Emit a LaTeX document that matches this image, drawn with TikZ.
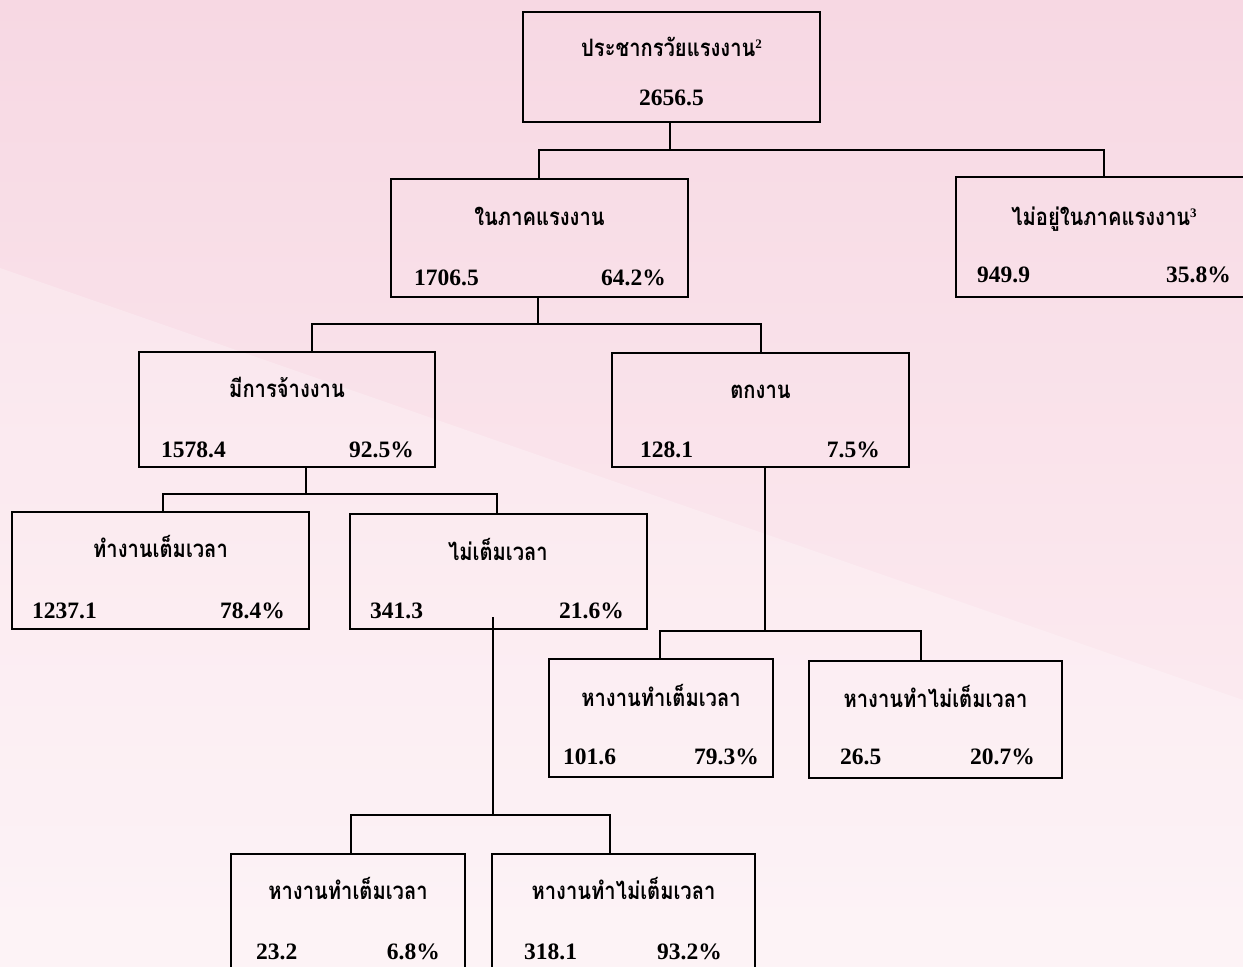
\documentclass[tikz,border=0pt]{standalone}
\usepackage{fontspec}
\setmainfont{Liberation Serif}
\newfontfamily\thaifont[Script=Thai,FakeStretch=0.84]{Loma}
\newfontfamily\supfont{Liberation Serif}
\newcommand\mysup[1]{\raisebox{8pt}{\supfont\bfseries\fontsize{13}{13}\selectfont #1}}
\definecolor{bgtop}{HTML}{F7D8E3}
\definecolor{bgbot}{HTML}{FDF0F4}
\tikzset{
  box/.style={draw=black, line width=2pt, rectangle, inner sep=0pt},
  conn/.style={draw=black, line width=2pt},
  ttl/.style={font=\thaifont\bfseries\fontsize{24}{28}\selectfont, anchor=base, inner sep=0pt},
  num/.style={font=\bfseries\fontsize{23.5}{27}\selectfont, inner sep=0pt},
  nl/.style={num, anchor=base west},
  nr/.style={num, anchor=base east},
}
\begin{document}
\begin{tikzpicture}[x=1pt,y=-1pt]
\useasboundingbox (0,0) rectangle (1243,967);
\clip (0,0) rectangle (1243,967);
% background
\shade[top color=bgtop, bottom color=bgbot] (0,0) rectangle (1243,967);
\fill[white, opacity=0.25] (0,268) -- (1243,700) -- (1243,967) -- (0,967) -- cycle;

% boxes
\node[box, minimum width=297pt, minimum height=110pt] (A) at (671.5,67) {};
\node[box, minimum width=297pt, minimum height=118pt] (B) at (539.5,238) {};
\node[box, minimum width=297pt, minimum height=120pt] (C) at (1104.5,237) {};
\node[box, minimum width=296pt, minimum height=115pt] (D) at (287,409.5) {};
\node[box, minimum width=297pt, minimum height=114pt] (E) at (760.5,410) {};
\node[box, minimum width=297pt, minimum height=117pt] (F) at (160.5,570.5) {};
\node[box, minimum width=297pt, minimum height=115pt] (G) at (498.5,571.5) {};
\node[box, minimum width=224pt, minimum height=118pt] (H) at (661,718) {};
\node[box, minimum width=253pt, minimum height=117pt] (I) at (935.5,719.5) {};
\node[box, minimum width=234pt, minimum height=126pt] (J) at (348,917) {};
\node[box, minimum width=263pt, minimum height=126pt] (K) at (623.5,917) {};

% texts
\node[ttl] (At) at (671.5,56) {ประชากรวัยแรงงาน\mysup{2}};
\node[num, anchor=base] (An) at (671.5,105) {2656.5};

\node[ttl] (Bt) at (539.5,225) {ในภาคแรงงาน};
\node[nl] (Bl) at (414,285) {1706.5};
\node[nr] (Br) at (666,285) {64.2\%};

\node[ttl] (Ct) at (1104,225) {ไม่อยู่ในภาคแรงงาน\mysup{3}};
\node[nl] (Cl) at (977,282) {949.9};
\node[nr] (Cr) at (1231,282) {35.8\%};

\node[ttl] (Dt) at (287,397) {มีการจ้างงาน};
\node[nl] (Dl) at (161,457) {1578.4};
\node[nr] (Dr) at (414,457) {92.5\%};

\node[ttl] (Et) at (760.5,398) {ตกงาน};
\node[nl] (El) at (640,457) {128.1};
\node[nr] (Er) at (880,457) {7.5\%};

\node[ttl] (Ft) at (160.5,557) {ทำงานเต็มเวลา};
\node[nl] (Fl) at (32,618) {1237.1};
\node[nr] (Fr) at (285,618) {78.4\%};

\node[ttl] (Gt) at (498,560) {ไม่เต็มเวลา};
\node[nl] (Gl) at (370,618) {341.3};
\node[nr] (Gr) at (624,618) {21.6\%};

\node[ttl] (Ht) at (661,706) {หางานทำเต็มเวลา};
\node[nl] (Hl) at (563,764) {101.6};
\node[nr] (Hr) at (759,764) {79.3\%};

\node[ttl] (It) at (935.5,707) {หางานทำไม่เต็มเวลา};
\node[nl] (Il) at (840,764) {26.5};
\node[nr] (Ir) at (1035,764) {20.7\%};

\node[ttl] (Jt) at (348,899) {หางานทำเต็มเวลา};
\node[nl] (Jl) at (256,959) {23.2};
\node[nr] (Jr) at (440,959) {6.8\%};

\node[ttl] (Kt) at (623.5,899) {หางานทำไม่เต็มเวลา};
\node[nl] (Kl) at (524,959) {318.1};
\node[nr] (Kr) at (722,959) {93.2\%};

% junction coordinates
\coordinate (a0) at (670,150);
\coordinate (ab) at (539,150);
\coordinate (ac) at (1104,150);
\coordinate (b0) at (538,324);
\coordinate (bd) at (312,324);
\coordinate (be) at (761,324);
\coordinate (d0) at (306,494);
\coordinate (df) at (163,494);
\coordinate (dg) at (497,494);
\coordinate (e0) at (765,631);
\coordinate (eh) at (660,631);
\coordinate (ei) at (921,631);
\coordinate (g0) at (493,617);
\coordinate (g1) at (493,815);
\coordinate (gj) at (351,815);
\coordinate (gk) at (610,815);

% connectors
\draw[conn] (A.south -| a0) -- (a0);
\draw[conn] (B.north -| ab) -- (ab) -- (ac) -- (C.north -| ac);
\draw[conn] (B.south -| b0) -- (b0);
\draw[conn] (D.north -| bd) -- (bd) -- (be) -- (E.north -| be);
\draw[conn] (D.south -| d0) -- (d0);
\draw[conn] (F.north -| df) -- (df) -- (dg) -- (G.north -| dg);
\draw[conn] (E.south -| e0) -- (e0);
\draw[conn] (H.north -| eh) -- (eh) -- (ei) -- (I.north -| ei);
\draw[conn] (g0) -- (g1);
\draw[conn] (J.north -| gj) -- (gj) -- (gk) -- (K.north -| gk);
\end{tikzpicture}
\end{document}
